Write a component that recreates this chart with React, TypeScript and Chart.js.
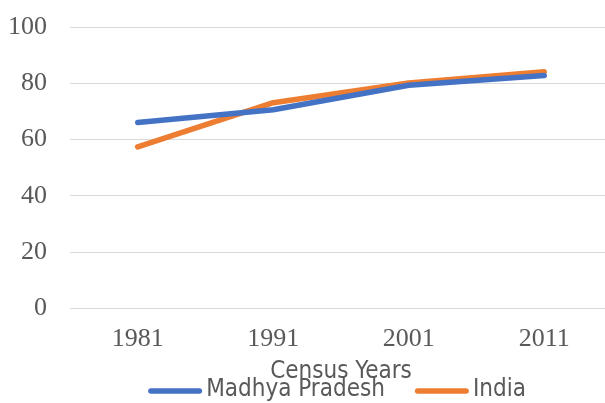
import React, { useEffect, useRef } from "react";
import { Chart, registerables } from "chart.js";

Chart.register(...registerables);

const years = ["1981", "1991", "2001", "2011"];
const madhyaPradesh = [66.1, 70.6, 79.3, 82.8];
const india = [57.4, 73.1, 80.1, 84.1];
const yTicks = [0, 20, 40, 60, 80, 100];

const SERIF = "'Liberation Serif', 'Times New Roman', serif";
const NARROW = "'Liberation Sans Narrow', 'Arial Narrow', 'DejaVu Sans Condensed', sans-serif";

const lineLegend = {
  id: "lineLegend",
  afterDraw(chart: any) {
    const ctx = chart.ctx;
    const area = chart.chartArea;
    const items = chart.data.datasets.map((d: any) => ({ label: d.label, color: d.borderColor }));
    const lineLen = 54;
    const gap = 4;
    const itemGap = 30;
    ctx.save();
    ctx.font = `24px ${NARROW}`;
    const widths = items.map((it: any) => ctx.measureText(it.label).width);
    const total =
      widths.reduce((a: number, w: number) => a + w + lineLen + gap, 0) + itemGap * (items.length - 1);
    let x = (area.left + area.right) / 2 - 4 - total / 2;
    const yLine = chart.height - 12;
    const yText = chart.height - 13;
    items.forEach((it: any, i: number) => {
      ctx.strokeStyle = it.color;
      ctx.lineWidth = 5.5;
      ctx.lineCap = "round";
      ctx.beginPath();
      ctx.moveTo(x + 2.75, yLine);
      ctx.lineTo(x + lineLen - 2.75, yLine);
      ctx.stroke();
      x += lineLen + gap;
      ctx.fillStyle = "#595959";
      ctx.textBaseline = "middle";
      ctx.textAlign = "left";
      ctx.fillText(it.label, x, yText);
      x += widths[i] + itemGap;
    });
    ctx.restore();
  },
};

export default function App() {
  const ref = useRef<HTMLCanvasElement | null>(null);
  useEffect(() => {
    let chart: Chart | null = null;
    let cancelled = false;
    const make = () => {
      if (cancelled || !ref.current) return;
      chart = new Chart(ref.current, {
        type: "line",
        data: {
          labels: years,
          datasets: [
            {
              label: "Madhya Pradesh",
              data: madhyaPradesh,
              borderColor: "#4472C4",
              backgroundColor: "#4472C4",
              borderWidth: 5.5,
              borderCapStyle: "round",
              borderJoinStyle: "round",
              pointRadius: 0,
              tension: 0,
            },
            {
              label: "India",
              data: india,
              borderColor: "#ED7D31",
              backgroundColor: "#ED7D31",
              borderWidth: 5.5,
              borderCapStyle: "round",
              borderJoinStyle: "round",
              pointRadius: 0,
              tension: 0,
            },
          ],
        },
        plugins: [lineLegend],
        options: {
          responsive: false,
          animation: false,
          layout: { padding: { top: 27, bottom: 19, left: 0, right: 0 } },
          plugins: {
            tooltip: { enabled: false },
            legend: { display: false },
          },
          scales: {
            x: {
              offset: true,
              grid: { display: false, drawTicks: false },
              border: { display: true, color: "#d9d9d9", width: 1 },
              ticks: {
                font: { family: SERIF, size: 26, lineHeight: 1.1 },
                color: "#595959",
                padding: 16,
                maxRotation: 0,
              },
              title: {
                display: true,
                text: "Census Years",
                font: { family: NARROW, size: 24, lineHeight: 1 },
                color: "#595959",
                padding: { top: -9, bottom: 0 },
              },
            },
            y: {
              min: 0,
              max: 100,
              afterFit: (s: any) => {
                s.width = 70;
                s.paddingTop = 0;
                s.paddingBottom = 0;
              },
              afterBuildTicks: (s: any) => {
                s.ticks = yTicks.map((v) => ({ value: v }));
              },
              grid: { color: "#d9d9d9", lineWidth: 1, drawTicks: false },
              border: { display: false },
              ticks: {
                font: { family: SERIF, size: 26 },
                color: "#595959",
                padding: 23,
              },
            },
          },
        },
      });
    };
    const fontsReady = (document as any).fonts
      ? Promise.all([
          (document as any).fonts.load("26px 'Liberation Serif'"),
          (document as any).fonts.load("24px 'Liberation Sans Narrow'"),
        ]).catch(() => null)
      : Promise.resolve(null);
    fontsReady.then(make);
    return () => {
      cancelled = true;
      if (chart) chart.destroy();
    };
  }, []);
  return (
    <div style={{ position: "absolute", left: 0, top: 0, width: 605, height: 403, overflow: "hidden", background: "#fff" }}>
      <canvas ref={ref} width={612} height={403} style={{ width: 612, height: 403, display: "block" }} />
    </div>
  );
}
